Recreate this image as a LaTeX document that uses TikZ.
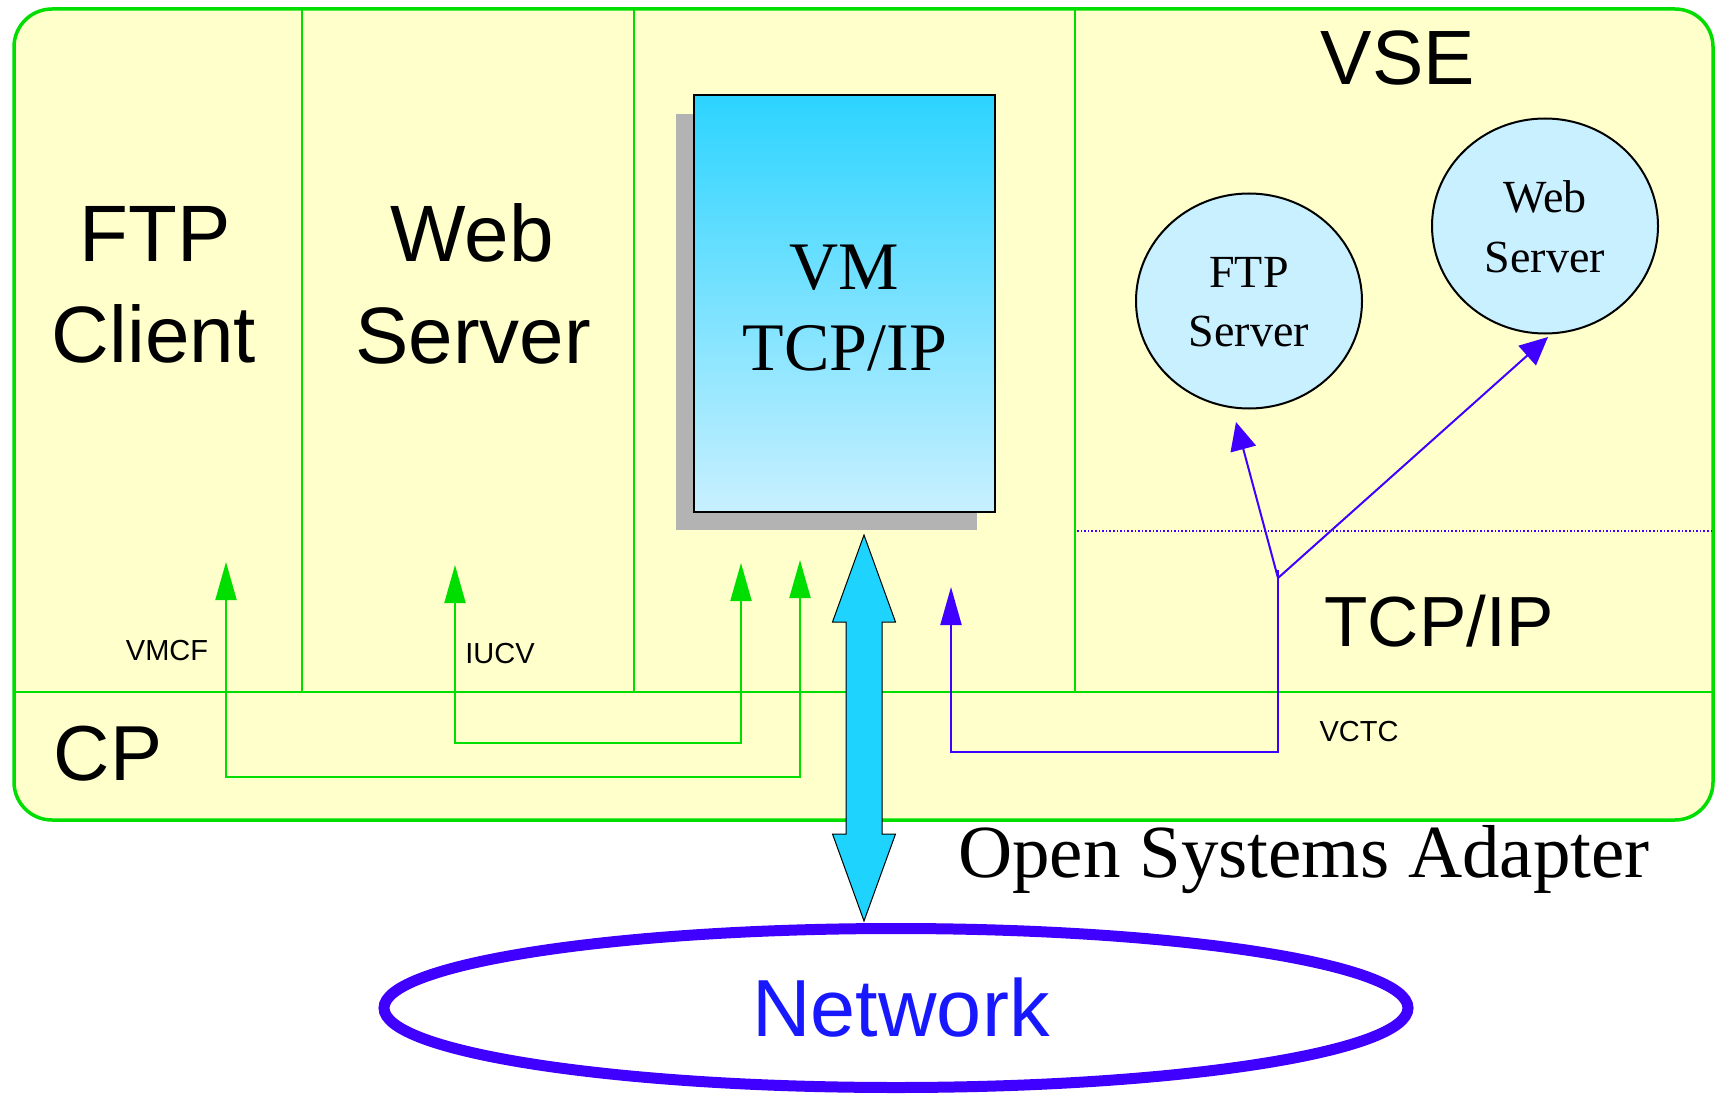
\documentclass[tikz,border=0pt]{standalone}
\usepackage{fontspec}
\setmainfont{Liberation Serif}
\setsansfont{Liberation Sans}
\usetikzlibrary{arrows.meta,shapes.geometric,calc}
\definecolor{bgyellow}{RGB}{255,255,204}
\definecolor{lgreen}{RGB}{0,222,0}
\definecolor{vblue}{RGB}{64,0,255}
\definecolor{netblue}{RGB}{24,24,255}
\definecolor{arrcyan}{RGB}{31,211,255}
\definecolor{circfill}{RGB}{200,240,255}
\definecolor{shadowgray}{RGB}{179,179,179}
\definecolor{boxtop}{RGB}{44,212,255}
\definecolor{boxbot}{RGB}{200,240,255}
\newcommand\fsz[1]{\fontsize{#1}{#1}\selectfont}
\begin{document}
\begin{tikzpicture}[x=1pt,y=-1pt,
  sanslbl/.style={anchor=base,inner sep=0pt,font={\sffamily\fsz{80}}},
  smalllbl/.style={anchor=base,inner sep=0pt,font={\sffamily\fsz{29}}},
  seriflbl/.style={anchor=base,inner sep=0pt,font={\rmfamily\fsz{68}}},
  circlbl/.style={anchor=base,inner sep=0pt,font={\rmfamily\fsz{46}}},
  divider/.style={draw=lgreen,line width=2pt},
  gline/.style={draw=lgreen,line width=2pt,{Triangle[length=38pt,width=21pt]}-{Triangle[length=38pt,width=21pt]}},
  bline/.style={draw=vblue,line width=2pt},
  btip/.style={-{Triangle[length=38pt,width=21pt]}},
  bdiag/.style={-{Triangle[length=28pt,width=26pt]}},
  server/.style={ellipse,draw=black,line width=2pt,fill=circfill,minimum width=226pt,minimum height=215pt,inner sep=0pt}
]
\useasboundingbox (0,0) rectangle (1718,1094);
\fill[white] (0,0) rectangle (1718,1094);

% outer system box
\draw[lgreen,line width=3.5pt,fill=bgyellow,rounded corners=38pt] (14,9) rectangle (1713,820);
\draw[divider] (302,9) -- (302,692);
\draw[divider] (634,9) -- (634,692);
\draw[divider] (1075,9) -- (1075,692);
\draw[divider] (14,692) -- (1713,692);
\draw[vblue,line width=1.6pt,dotted] (1077,531) -- (1713,531);

% VM TCP/IP box
\fill[shadowgray] (676,114) rectangle (977,530);
\node[draw=black,line width=2pt,top color=boxtop,bottom color=boxbot,minimum width=301pt,minimum height=416pt,inner sep=0pt] (vmbox) at (844.5,303.5) {};
\node[seriflbl] (vm1) at (844,289) {VM};
\node[seriflbl] (vm2) at (845,370) {TCP/IP};

% servers in VSE
\node[server] (ftps) at (1249,301) {};
\node[circlbl] (ftps1) at (1249,287) {FTP};
\node[circlbl] (ftps2) at (1249,346) {Server};
\node[server] (webs) at (1545,226) {};
\node[circlbl] (webs1) at (1545,213) {Web};
\node[circlbl] (webs2) at (1545,272) {Server};

% labels
\node[sanslbl] (ftpc1) at (155,261) {FTP};
\node[sanslbl] (ftpc2) at (154,362) {Client};
\node[sanslbl] (web1) at (472,261) {Web};
\node[sanslbl] (web2) at (473,363) {Server};
\node[sanslbl,font={\sffamily\fsz{77}}] (vse) at (1398,85) {VSE};
\node[sanslbl,font={\sffamily\fsz{71}}] (tcpip) at (1439,646) {TCP/IP};
\node[sanslbl,font={\sffamily\fsz{78}}] (cp) at (108,780) {CP};
\node[smalllbl] (vmcf) at (167,660) {VMCF};
\node[smalllbl] (iucv) at (500,663) {IUCV};
\node[smalllbl] (vctc) at (1359,741) {VCTC};
\node[anchor=base,inner sep=0pt,font={\rmfamily\fsz{75}}] (osa) at (1304,877) {Open Systems Adapter};

% network
\node[ellipse,draw=vblue,line width=11pt,minimum width=1024pt,minimum height=159pt,inner sep=0pt] (net) at (896,1008) {};
\node[anchor=base,inner sep=0pt,text=netblue,font={\sffamily\fsz{81}}] (netlbl) at (901,1036) {Network};

% green CP connections
\coordinate (vmcfTip) at (226,562);
\coordinate (vmcfTcp) at (800,560);
\coordinate (iucvTip) at (455,565);
\coordinate (iucvTcp) at (741,563);
\draw[gline] (vmcfTip) -- (226,777) -- (800,777) -- (vmcfTcp);
\draw[gline] (iucvTip) -- (455,743) -- (741,743) -- (iucvTcp);

% blue VCTC connections
\coordinate (vctcTip) at (951,587);
\coordinate (junc) at (1278,578);
\coordinate (jtop) at (1278,570);
\coordinate (ftpTip) at (1236,422);
\coordinate (webTip) at (1548,337);
\draw[bline,btip] (jtop) -- (1278,752) -- (951,752) -- (vctcTip);
\draw[bline,bdiag] (junc) -- (ftpTip);
\draw[bline,bdiag] (junc) -- (webTip);

% OSA double arrow
\coordinate (osaTop) at (864,535);
\coordinate (osaBot) at (864,921);
\draw[fill=arrcyan,draw=black,line width=1pt]
  (osaTop) -- ($(osaTop)+(31.5,87)$) -- ($(osaTop)+(18,87)$)
  -- ($(osaBot)+(18,-87)$) -- ($(osaBot)+(31.5,-87)$) -- (osaBot)
  -- ($(osaBot)+(-31.5,-87)$) -- ($(osaBot)+(-18,-87)$)
  -- ($(osaTop)+(-18,87)$) -- ($(osaTop)+(-31.5,87)$) -- cycle;
\end{tikzpicture}
\end{document}
